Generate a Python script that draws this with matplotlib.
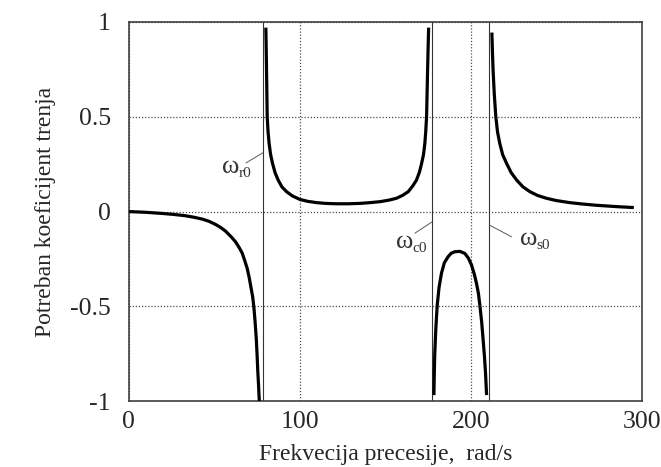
import matplotlib
matplotlib.use("Agg")
import matplotlib.pyplot as plt

plt.rcParams['font.family'] = ['Liberation Serif', 'DejaVu Serif']
plt.rcParams['mathtext.fontset'] = 'stix'

# branch below omega_r0
x1 = [0, 10, 19.5, 26, 33, 38, 43, 47, 50.7, 53.5, 56.5, 60, 62.4, 64.5, 66.3, 67.8, 69.2,
      70.4, 71.5, 72.4, 73.1, 73.8, 74.5, 75.0, 75.4, 75.8, 76.1, 76.3]
y1 = [0, -0.004, -0.01, -0.015, -0.022, -0.03, -0.04, -0.052, -0.068, -0.083, -0.103, -0.135,
      -0.16, -0.19, -0.22, -0.26, -0.30, -0.35, -0.405, -0.45, -0.505, -0.58, -0.67, -0.76,
      -0.845, -0.91, -0.97, -1.0]

# branch between omega_r0 and omega_c0
x2 = [80.1, 80.3, 80.5, 80.7, 80.9, 81.4, 82.0, 82.9, 84.0, 85.5, 87.3, 89.5, 92.2, 95.5, 100,
      104.5, 109.8, 115, 121.5, 128, 135, 141, 146.8, 152, 156.5, 160, 163.4, 166, 168.2,
      170, 171.2, 172.3, 173.1, 173.6, 174.1, 174.4, 174.7, 175.0, 175.3]
y2 = [0.97, 0.86, 0.747, 0.62, 0.50, 0.42, 0.36, 0.30, 0.254, 0.205, 0.166, 0.13, 0.105, 0.083,
      0.064, 0.054, 0.047, 0.043, 0.041, 0.041, 0.043, 0.047, 0.052, 0.06, 0.07, 0.085, 0.105,
      0.135, 0.166, 0.21, 0.254, 0.30, 0.36, 0.42, 0.50, 0.62, 0.747, 0.86, 0.97]

# branch between omega_c0 and omega_s0
x3 = [178.4, 178.6, 178.9, 179.5, 180.3, 181.4, 182.8, 184.5, 186.7, 188.5, 190.6, 193.6,
      196.5, 198.5, 200.4, 202, 203.3, 204.4, 205.3, 206.3, 207.2, 208.0, 208.6, 209.2]
y3 = [-0.968, -0.86, -0.748, -0.62, -0.497, -0.40, -0.326, -0.27, -0.238, -0.22, -0.212, -0.21,
      -0.221, -0.245, -0.282, -0.33, -0.379, -0.43, -0.497, -0.58, -0.678, -0.77, -0.854, -0.968]

# branch above omega_s0
x4 = [212.3, 212.6, 213.0, 213.7, 214.6, 215.6, 216.9, 218.6, 220.9, 223.6, 226.8, 230.5,
      234.5, 239, 244.2, 250, 257.9, 265, 273.5, 285.2, 295.3]
y4 = [0.944, 0.85, 0.747, 0.62, 0.5, 0.42, 0.36, 0.30, 0.254, 0.205, 0.166, 0.13, 0.105,
      0.085, 0.07, 0.058, 0.047, 0.04, 0.033, 0.026, 0.021]

# characteristic frequencies
omega_names = ['r0', 'c0', 's0']
omega_vals = [78.4, 177.4, 210.8]

xticks = [0, 100, 200, 300]
yticks = [-1, -0.5, 0, 0.5, 1]
ytick_labels = ['-1', '-0.5', '0', '0.5', '1']

fig, ax = plt.subplots(figsize=(6.61, 4.67), dpi=100)
fig.subplots_adjust(left=0.195, right=0.971, top=0.953, bottom=0.141)

for w in omega_vals:
    ax.axvline(w, color='0.2', lw=0.8, zorder=2)

for xs, ys in [(x1, y1), (x2, y2), (x3, y3), (x4, y4)]:
    ax.plot(xs, ys, color='black', lw=2.3, solid_capstyle='butt', solid_joinstyle='round', zorder=3)

# omega labels: symbol + small subscript, with leader line to the vertical line
label_pos = [(59.5, 0.235), (161.5, -0.16), (234, -0.145)]
leader_from = [(68.4, 0.256), (167.3, -0.114), (223.8, -0.133)]
leader_y = [0.31, -0.054, -0.071]
for name, w, pos, lf, ly in zip(omega_names, omega_vals, label_pos, leader_from, leader_y):
    ax.text(pos[0], pos[1], '\u03c9', ha='center', va='center',
            fontsize=19, color='0.2')
    ax.annotate(name, xy=pos, xytext=(5.5, -5), textcoords='offset points',
                ha='left', va='center', fontsize=11, color='0.2')
    ax.annotate('', xy=(w, ly), xytext=lf,
                arrowprops=dict(arrowstyle='-', lw=0.7, color='0.35', shrinkA=0, shrinkB=0))

ax.set_xlim(0, 300)
ax.set_ylim(-1, 1)
ax.set_xticks(xticks)
ax.set_yticks(yticks)
ax.set_yticklabels(ytick_labels)
ax.tick_params(length=0, labelsize=18.5, colors='0.15')
ax.tick_params(axis='x', pad=7)
ax.tick_params(axis='y', pad=13)
ax.grid(True, linestyle=(0, (1, 1.5)), color='0.3', lw=0.9)

for s in ax.spines.values():
    s.set_color('0.25')
    s.set_linewidth(1.2)

ax.set_xlabel('Frekvecija precesije,  rad/s', fontsize=17, color='0.15', labelpad=8)
ax.set_ylabel('Potreban koeficijent trenja', fontsize=17, color='0.15', labelpad=10)

fig.savefig('out.png', dpi=100)
